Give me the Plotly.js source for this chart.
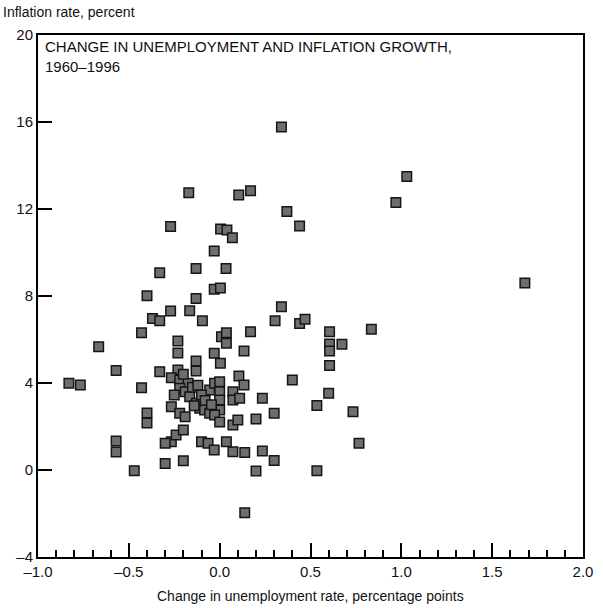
<!DOCTYPE html>
<html>
<head>
<meta charset="utf-8">
<script src="https://cdn.plot.ly/plotly-3.0.1.min.js"></script>
<style>html,body{margin:0;padding:0;background:#fff;}#chart{width:603px;height:608px;}</style>
</head>
<body>
<div id="chart"></div>
<script>
// Change in unemployment rate (percentage points)
const unemploymentChange = [
  0.34, -0.17, 0.105, 0.17, 0.37, 0.44, -0.27, 0.005, 0.04, 0.07,
  -0.03, -0.13, 0.035, -0.33, -0.03, 0.004, -0.13, -0.40, -0.27, -0.165,
  -0.37, -0.33, -0.095, 0.34, 0.305, 0.44, 0.47, -0.43, 0.17, 0.01,
  0.037, 0.037, -0.23, -0.23, -0.666, -0.03, 0.004, 0.134, -0.13, -0.13,
  -0.57, -0.33, -0.43, 0.40, 0.106, 0.134, -0.83, -0.767, 0.605, 0.835,
  0.605, 0.605, 0.673, 0.605, 0.60, 0.235, 0.535, 0.734, 0.30, 0.20,
  0.767, 0.235, 0.30, 0.20, 0.535, 0.138, 0.073, 0.10, 0.138, 0.073,
  0.037, -0.10, -0.064, -0.03, -0.266, -0.24, -0.20, -0.30, -0.40, -0.40,
  -0.57, -0.57, -0.47, -0.30, -0.20, -0.23, -0.266, -0.22, -0.174, -0.22,
  -0.19, -0.165, -0.266, -0.22, -0.19, -0.128, -0.11, -0.083, -0.055, -0.055,
  -0.028, 0.0, 0.0, 0.0, 0.0, -0.028, 0.0, 0.073, 0.073, 0.11,
  1.03, 0.97, 1.68,
  -0.20, -0.15, -0.10, -0.08, -0.045, -0.12, -0.25, -0.14
];
// Inflation rate (percent)
const inflationRate = [
  15.77, 12.75, 12.64, 12.84, 11.89, 11.22, 11.19, 11.08, 11.03, 10.68,
  10.07, 9.27, 9.27, 9.07, 8.31, 8.37, 7.89, 8.01, 7.31, 7.32,
  6.97, 6.86, 6.86, 7.51, 6.86, 6.74, 6.93, 6.31, 6.36, 6.13,
  6.31, 5.83, 5.93, 5.38, 5.67, 5.37, 4.91, 5.47, 5.01, 4.55,
  4.57, 4.52, 3.78, 4.14, 4.32, 3.91, 3.99, 3.91, 6.36, 6.47,
  5.79, 5.47, 5.78, 4.80, 3.53, 3.30, 2.96, 2.68, 2.61, 2.34,
  1.23, 0.87, 0.44, -0.05, -0.03, -1.96, 2.07, 2.30, 0.80, 0.84,
  1.30, 1.30, 1.23, 0.92, 1.30, 1.61, 1.84, 1.23, 2.62, 2.16,
  1.33, 0.83, -0.03, 0.30, 0.43, 4.60, 4.24, 4.14, 3.99, 3.76,
  3.60, 3.37, 2.91, 2.61, 2.45, 3.07, 2.84, 2.76, 2.61, 3.68,
  3.99, 4.06, 3.60, 3.22, 2.76, 2.53, 2.21, 3.60, 3.22, 3.30,
  13.5, 12.3, 8.6,
  4.40, 3.80, 3.45, 3.20, 3.00, 3.90, 3.45, 2.95
];
const xTickVals = [-1.0, -0.5, 0.0, 0.5, 1.0, 1.5, 2.0];
const xTickText = ["\u20131.0", "\u20130.5", "0.0", "0.5", "1.0", "1.5", "2.0"];
const yTickVals = [-4, 0, 4, 8, 12, 16, 20];
const yTickText = ["\u20134", "0", "4", "8", "12", "16", "20"];

const labelFont = "'Liberation Sans', Arial, sans-serif";

const trace = {
  x: unemploymentChange,
  y: inflationRate,
  type: 'scatter',
  mode: 'markers',
  marker: {symbol: 'square', size: 9.5, color: '#6e6e6e', line: {color: '#151515', width: 1.5}},
  hoverinfo: 'x+y'
};

const layout = {
  width: 603, height: 608,
  margin: {l: 38, r: 20, t: 35, b: 51},
  paper_bgcolor: '#fff', plot_bgcolor: '#fff',
  showlegend: false,
  xaxis: {
    range: [-1.0, 2.0], showgrid: false, zeroline: false,
    showline: true, linecolor: '#000', linewidth: 2, mirror: true,
    tickvals: xTickVals, ticktext: xTickText,
    ticks: 'inside', ticklen: 14, tickwidth: 2, tickcolor: '#000',
    minor: {dtick: 0.1, tick0: 0, ticks: 'inside', ticklen: 7, tickwidth: 2, tickcolor: '#000', showgrid: false},
    tickfont: {family: labelFont, size: 15, color: '#111'}
  },
  yaxis: {
    range: [-4, 20], showgrid: false, zeroline: false,
    showline: true, linecolor: '#000', linewidth: 2, mirror: true,
    tickvals: yTickVals, ticktext: yTickText,
    ticks: 'inside', ticklen: 14, tickwidth: 2, tickcolor: '#000',
    tickfont: {family: labelFont, size: 15, color: '#111'}
  },
  annotations: [
    {text: 'Inflation rate, percent', xref: 'paper', yref: 'paper', x: 0, y: 1,
     xshift: -37, yshift: 23, xanchor: 'left', yanchor: 'middle', showarrow: false,
     font: {family: labelFont, size: 14, color: '#111'}},
    {text: 'CHANGE IN UNEMPLOYMENT AND INFLATION GROWTH,<br>1960\u20131996', xref: 'paper', yref: 'paper',
     x: 0, y: 1, xshift: 5, yshift: -1, xanchor: 'left', yanchor: 'top', align: 'left', showarrow: false,
     font: {family: labelFont, size: 15, color: '#111'}},
    {text: 'Change in unemployment rate, percentage points', xref: 'paper', yref: 'paper',
     x: 0.5, y: 0, yshift: -39, xanchor: 'center', yanchor: 'middle', showarrow: false,
     font: {family: labelFont, size: 14, color: '#111'}}
  ]
};

Plotly.newPlot('chart', [trace], layout, {displayModeBar: false, staticPlot: true});
</script>
</body>
</html>
